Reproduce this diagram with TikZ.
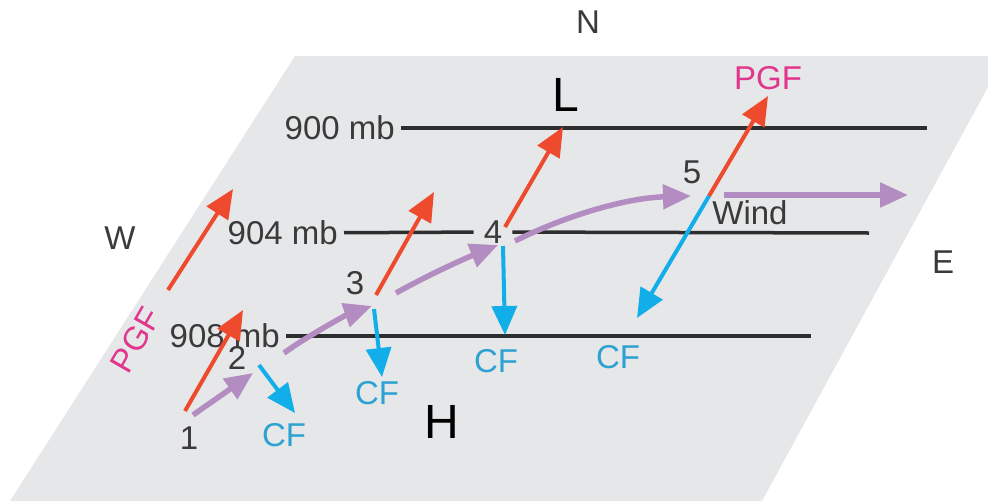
\documentclass[tikz,border=0pt]{standalone}
\usepackage{fontspec}
\setmainfont{Liberation Sans}
\usetikzlibrary{arrows.meta}

\definecolor{plane}{HTML}{E6E7E8}
\definecolor{isobar}{HTML}{2E2E2E}
\definecolor{txtgray}{HTML}{3A3A3A}
\definecolor{pgfred}{HTML}{EE4B2E}
\definecolor{pgfpink}{HTML}{E0368D}
\definecolor{cfblue}{HTML}{12AEEA}
\definecolor{cftext}{HTML}{2DA2D2}
\definecolor{windpurple}{HTML}{B38CC1}

\begin{document}
\begin{tikzpicture}[x=1pt,y=-1pt,
    lbl/.style={font=\fontsize{33}{35}\selectfont, text=txtgray, inner sep=0pt},
    cflbl/.style={lbl, text=cftext},
    pgflbl/.style={lbl, text=pgfpink},
    hilo/.style={font=\fontsize{48}{50}\selectfont, text=black, inner sep=0pt},
    isoline/.style={draw=isobar, line width=3.5pt},
    pgfarrow/.style={draw=pgfred, line width=4pt, -{Triangle[length=29pt,width=25pt]}},
    cfarrow/.style={draw=cfblue, line width=4pt, -{Triangle[length=29pt,width=25pt]}},
    windarrow/.style={draw=windpurple, line width=5.5pt, -{Triangle[length=28pt,width=24pt]}}
]
    \useasboundingbox (0,0) rectangle (988,501);

    % Tilted plane
    \fill[plane] (295,56) -- (1005,56) -- (762,501) -- (10,501) -- cycle;

    % Compass points
    \node[lbl] (north) at (588,22) {N};
    \node[lbl] (west) at (120,238) {W};
    \node[lbl] (east) at (943,262) {E};

    % Low and high
    \node[hilo] (low) at (566,95) {L};
    \node[hilo] (high) at (442,422) {H};

    % Isobars
    \node[lbl, anchor=east, inner xsep=6pt] (l900) at (401,128) {900 mb};
    \node[lbl, anchor=east, inner xsep=6pt] (l904) at (344,233) {904 mb};
    \node[lbl, anchor=east, inner xsep=6pt] (l908) at (286,336) {908 mb};
    \node[lbl, inner xsep=10pt] (n4) at (493,232) {4};
    \coordinate (e900) at (927,128);
    \coordinate (e904) at (869,233);
    \coordinate (e908) at (811,336);
    \draw[isoline] (l900) -- (e900);
    \draw[isoline] (l904) -- (n4) -- (e904);
    \draw[isoline] (l908) -- (e908);

    % Parcel positions
    \node[lbl] (n1) at (189,438) {1};
    \node[lbl] (n2) at (237,358) {2};
    \node[lbl] (n3) at (355,283) {3};
    \node[lbl] (n5) at (692,172) {5};

    % Pressure gradient force
    \coordinate (g0a) at (168,290); \coordinate (g0b) at (233,189);
    \coordinate (g1a) at (185,411); \coordinate (g1b) at (243,310);
    \coordinate (g3a) at (376,295); \coordinate (g3b) at (434,192);
    \coordinate (g4a) at (505,227); \coordinate (g4b) at (563,127);
    \coordinate (g5a) at (709,196); \coordinate (g5b) at (768,96);
    \draw[pgfarrow] (g0a) -- (g0b);
    \draw[pgfarrow] (g1a) -- (g1b);
    \draw[pgfarrow] (g3a) -- (g3b);
    \draw[pgfarrow] (g4a) -- (g4b);
    \draw[pgfarrow] (g5a) -- (g5b);
    \node[pgflbl, rotate=60] (pgf1) at (136,340) {PGF};
    \node[pgflbl] (pgf2) at (768,78) {PGF};

    % Coriolis force
    \coordinate (c2a) at (259,365); \coordinate (c2b) at (295,413);
    \coordinate (c3a) at (374,309); \coordinate (c3b) at (382,377);
    \coordinate (c4a) at (503,246); \coordinate (c4b) at (505,335);
    \coordinate (c5b) at (637,318);
    \draw[cfarrow] (c2a) -- (c2b);
    \draw[cfarrow] (c3a) -- (c3b);
    \draw[cfarrow] (c4a) -- (c4b);
    \draw[cfarrow] (g5a) -- (c5b);
    \node[cflbl] (cf2) at (284,435) {CF};
    \node[cflbl] (cf3) at (377,393) {CF};
    \node[cflbl] (cf4) at (496,361) {CF};
    \node[cflbl] (cf5) at (618,357) {CF};

    % Wind path
    \coordinate (w1a) at (193,415); \coordinate (w1b) at (253,373);
    \coordinate (w2a) at (284,353); \coordinate (w2b) at (372,306);
    \coordinate (w3a) at (396,293); \coordinate (w3b) at (498,245);
    \coordinate (w4a) at (515,241); \coordinate (w4b) at (691,196);
    \coordinate (w5a) at (724,195); \coordinate (w5b) at (908,195);
    \draw[windarrow] (w1a) -- (w1b);
    \draw[windarrow] (w2a) .. controls (306,337) and (346,315) .. (w2b);
    \draw[windarrow] (w3a) .. controls (428,275) and (466,258) .. (w3b);
    \draw[windarrow] (w4a) .. controls (565,216) and (625,198) .. (w4b);
    \draw[windarrow] (w5a) -- (w5b);
    \node[lbl] (wind) at (750,213) {Wind};
\end{tikzpicture}
\end{document}
